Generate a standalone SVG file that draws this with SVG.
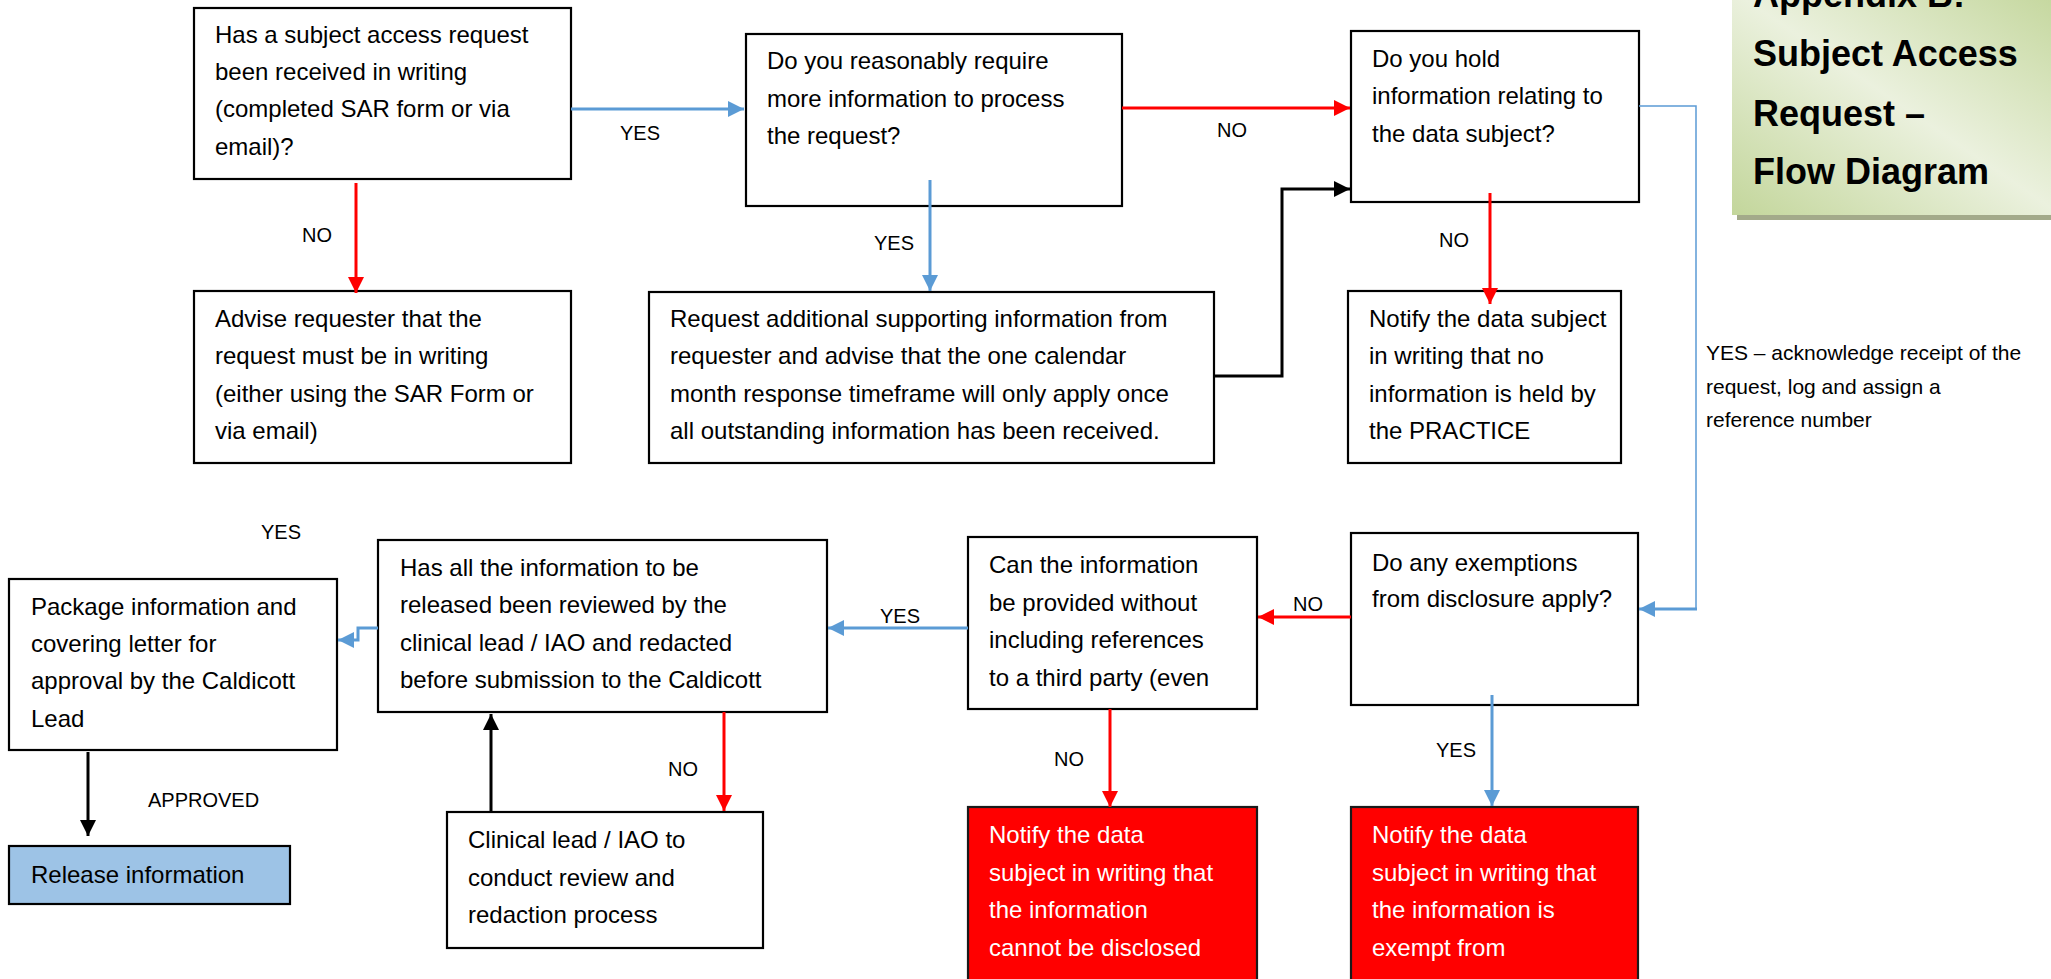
<svg xmlns="http://www.w3.org/2000/svg" width="2051" height="979" viewBox="0 0 2051 979">
<defs>
  <linearGradient id="titleGrad" x1="0" y1="1" x2="1" y2="0">
    <stop offset="0" stop-color="#c3d69b"/>
    <stop offset="0.5" stop-color="#ebf1de"/>
    <stop offset="1" stop-color="#c3d69b"/>
  </linearGradient>
  <marker id="arrBlue" markerUnits="userSpaceOnUse" markerWidth="16" markerHeight="16" viewBox="0 0 16 16" refX="16" refY="8" orient="auto">
    <path d="M0,0 L16,8 L0,16 z" fill="#5b9bd5"/>
  </marker>
  <marker id="arrRed" markerUnits="userSpaceOnUse" markerWidth="16" markerHeight="16" viewBox="0 0 16 16" refX="16" refY="8" orient="auto">
    <path d="M0,0 L16,8 L0,16 z" fill="#ff0000"/>
  </marker>
  <marker id="arrBlack" markerUnits="userSpaceOnUse" markerWidth="16" markerHeight="16" viewBox="0 0 16 16" refX="16" refY="8" orient="auto">
    <path d="M0,0 L16,8 L0,16 z" fill="#000000"/>
  </marker>
</defs>
<style>
  .box { fill: #ffffff; stroke: #000000; stroke-width: 2.2; }
  .redbox { fill: #ff0000; stroke: #1a1a1a; stroke-width: 2.2; }
  .bluebox { fill: #9dc3e6; stroke: #000000; stroke-width: 2.2; }
  .t { font-family: "Liberation Sans", Arial, sans-serif; font-size: 24px; fill: #000000; }
  .tw { font-family: "Liberation Sans", Arial, sans-serif; font-size: 24px; fill: #ffffff; }
  .lbl { font-family: "Liberation Sans", Arial, sans-serif; font-size: 20px; fill: #000000; }
  .note { font-family: "Liberation Sans", Arial, sans-serif; font-size: 21px; fill: #000000; }
  .title { font-family: "Liberation Sans", Arial, sans-serif; font-size: 36px; font-weight: bold; fill: #000000; }
  .cBlue { fill: none; stroke: #5b9bd5; stroke-width: 3; marker-end: url(#arrBlue); }
  .cBlueThin { fill: none; stroke: #5b9bd5; stroke-width: 1.5; }
  .cRed { fill: none; stroke: #ff0000; stroke-width: 3; marker-end: url(#arrRed); }
  .cBlack { fill: none; stroke: #000000; stroke-width: 3; marker-end: url(#arrBlack); }
</style>
<rect width="2051" height="979" fill="#ffffff"/>

<g id="title">
  <rect x="1737" y="-10" width="330" height="230" fill="#a3aa8a"/>
  <rect x="1732" y="-10" width="330" height="225" fill="url(#titleGrad)"/>
  <text class="title" x="1753" y="7">Appendix B:</text>
  <text class="title" x="1753" y="66">Subject Access</text>
  <text class="title" x="1753" y="126">Request –</text>
  <text class="title" x="1753" y="184">Flow Diagram</text>
</g>

<g id="n1">
  <rect class="box" x="194" y="8" width="377" height="171"/>
  <text class="t" x="215" y="43">Has a subject access request</text>
  <text class="t" x="215" y="80">been received in writing</text>
  <text class="t" x="215" y="117">(completed SAR form or via</text>
  <text class="t" x="215" y="155">email)?</text>
</g>
<g id="n2">
  <rect class="box" x="746" y="34" width="376" height="172"/>
  <text class="t" x="767" y="69">Do you reasonably require</text>
  <text class="t" x="767" y="107">more information to process</text>
  <text class="t" x="767" y="144">the request?</text>
</g>
<g id="n3">
  <rect class="box" x="1351" y="31" width="288" height="171"/>
  <text class="t" x="1372" y="67">Do you hold</text>
  <text class="t" x="1372" y="104">information relating to</text>
  <text class="t" x="1372" y="142">the data subject?</text>
</g>
<g id="n4">
  <rect class="box" x="194" y="291" width="377" height="172"/>
  <text class="t" x="215" y="327">Advise requester that the</text>
  <text class="t" x="215" y="364">request must be in writing</text>
  <text class="t" x="215" y="402">(either using the SAR Form or</text>
  <text class="t" x="215" y="439">via email)</text>
</g>
<g id="n5">
  <rect class="box" x="649" y="292" width="565" height="171"/>
  <text class="t" x="670" y="327">Request additional supporting information from</text>
  <text class="t" x="670" y="364">requester and advise that the one calendar</text>
  <text class="t" x="670" y="402">month response timeframe will only apply once</text>
  <text class="t" x="670" y="439">all outstanding information has been received.</text>
</g>
<g id="n6">
  <rect class="box" x="1348" y="291" width="273" height="172"/>
  <text class="t" x="1369" y="327">Notify the data subject</text>
  <text class="t" x="1369" y="364">in writing that no</text>
  <text class="t" x="1369" y="402">information is held by</text>
  <text class="t" x="1369" y="439">the PRACTICE</text>
</g>
<g id="n7">
  <rect class="box" x="1351" y="533" width="287" height="172"/>
  <text class="t" x="1372" y="571">Do any exemptions</text>
  <text class="t" x="1372" y="607">from disclosure apply?</text>
</g>
<g id="n8">
  <rect class="box" x="968" y="537" width="289" height="172"/>
  <text class="t" x="989" y="573">Can the information</text>
  <text class="t" x="989" y="611">be provided without</text>
  <text class="t" x="989" y="648">including references</text>
  <text class="t" x="989" y="686">to a third party (even</text>
</g>
<g id="n9">
  <rect class="box" x="378" y="540" width="449" height="172"/>
  <text class="t" x="400" y="576">Has all the information to be</text>
  <text class="t" x="400" y="613">released been reviewed by the</text>
  <text class="t" x="400" y="651">clinical lead / IAO and redacted</text>
  <text class="t" x="400" y="688">before submission to the Caldicott</text>
</g>
<g id="n10">
  <rect class="box" x="9" y="579" width="328" height="171"/>
  <text class="t" x="31" y="615">Package information and</text>
  <text class="t" x="31" y="652">covering letter for</text>
  <text class="t" x="31" y="689">approval by the Caldicott</text>
  <text class="t" x="31" y="727">Lead</text>
</g>
<g id="n11">
  <rect class="bluebox" x="9" y="846" width="281" height="58"/>
  <text class="t" x="31" y="883">Release information</text>
</g>
<g id="n12">
  <rect class="box" x="447" y="812" width="316" height="136"/>
  <text class="t" x="468" y="848">Clinical lead / IAO to</text>
  <text class="t" x="468" y="886">conduct review and</text>
  <text class="t" x="468" y="923">redaction process</text>
</g>
<g id="n13">
  <rect class="redbox" x="968" y="807" width="289" height="185"/>
  <text class="tw" x="989" y="843">Notify the data</text>
  <text class="tw" x="989" y="881">subject in writing that</text>
  <text class="tw" x="989" y="918">the information</text>
  <text class="tw" x="989" y="956">cannot be disclosed</text>
</g>
<g id="n14">
  <rect class="redbox" x="1351" y="807" width="287" height="185"/>
  <text class="tw" x="1372" y="843">Notify the data</text>
  <text class="tw" x="1372" y="881">subject in writing that</text>
  <text class="tw" x="1372" y="918">the information is</text>
  <text class="tw" x="1372" y="956">exempt from</text>
</g>

<g id="connectors">
  <path class="cBlue" d="M571,109 L744,109"/>
  <path class="cRed" d="M1122,108 L1350,108"/>
  <path class="cRed" d="M356,183 L356,293"/>
  <path class="cBlue" d="M930,180 L930,291"/>
  <path class="cBlack" d="M1214,376 L1282,376 L1282,189 L1350,189"/>
  <path class="cRed" d="M1490,193 L1490,304"/>
  <path class="cBlueThin" d="M1639,106 L1696,106 L1696,609"/>
  <path class="cBlue" d="M1697,609 L1639,609"/>
  <path class="cRed" d="M1351,617 L1258,617"/>
  <path class="cBlue" d="M968,628 L828,628"/>
  <path class="cBlue" d="M378,628 L358,628 L358,640 L338,640"/>
  <path class="cBlack" d="M88,752 L88,836"/>
  <path class="cBlack" d="M491,812 L491,714"/>
  <path class="cRed" d="M724,712 L724,811"/>
  <path class="cRed" d="M1110,709 L1110,807"/>
  <path class="cBlue" d="M1492,695 L1492,806"/>

  <text class="lbl" x="620" y="140">YES</text>
  <text class="lbl" x="1217" y="137">NO</text>
  <text class="lbl" x="302" y="242">NO</text>
  <text class="lbl" x="874" y="250">YES</text>
  <text class="lbl" x="1439" y="247">NO</text>
  <text class="note" x="1706" y="360">YES – acknowledge receipt of the</text>
  <text class="note" x="1706" y="394">request, log and assign a</text>
  <text class="note" x="1706" y="427">reference number</text>
  <text class="lbl" x="1293" y="611">NO</text>
  <text class="lbl" x="880" y="623">YES</text>
  <text class="lbl" x="261" y="539">YES</text>
  <text class="lbl" x="148" y="807">APPROVED</text>
  <text class="lbl" x="668" y="776">NO</text>
  <text class="lbl" x="1054" y="766">NO</text>
  <text class="lbl" x="1436" y="757">YES</text>
</g>
</svg>
